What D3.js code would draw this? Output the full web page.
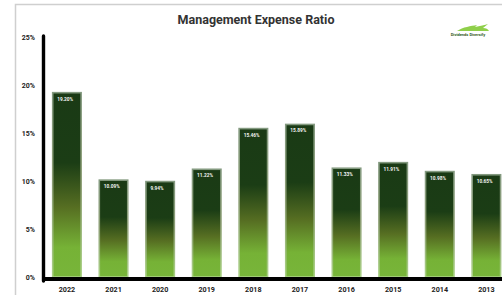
<!DOCTYPE html>
<html>
<head>
<meta charset="utf-8">
<script src="https://cdn.jsdelivr.net/npm/d3@7"></script>
<style>
  html, body { margin: 0; padding: 0; background: #fff; }
  svg { display: block; font-family: Roboto, "DejaVu Sans", sans-serif; }
</style>
</head>
<body>
<div id="chart"></div>
<script>
// data
var years = ["2022", "2021", "2020", "2019", "2018", "2017", "2016", "2015", "2014", "2013"];
var ratios = [19.20, 10.09, 9.94, 11.22, 15.46, 15.89, 11.33, 11.91, 10.98, 10.65];
var yTicks = [0, 5, 10, 15, 20, 25];
var title = "Management Expense Ratio";

var W = 502, H = 295;
var svg = d3.select("#chart").append("svg")
    .attr("width", W).attr("height", H);

var defs = svg.append("defs");
var fillGrad = defs.append("linearGradient").attr("id", "barFill")
    .attr("x1", 0).attr("y1", 0).attr("x2", 0).attr("y2", 1);
[[0, "#1a3a15"], [0.38, "#1b3d15"], [0.62, "#566e22"], [0.84, "#76b236"], [1, "#78b53a"]]
  .forEach(function(s){ fillGrad.append("stop").attr("offset", s[0]).attr("stop-color", s[1]); });
var strokeGrad = defs.append("linearGradient").attr("id", "barStroke")
    .attr("x1", 0).attr("y1", 0).attr("x2", 0).attr("y2", 1);
[[0, "#849a80"], [0.5, "#8c9e74"], [1, "#a9d184"]]
  .forEach(function(s){ strokeGrad.append("stop").attr("offset", s[0]).attr("stop-color", s[1]); });

// outer frame
svg.append("rect").attr("x", 15.5).attr("y", 4.5).attr("width", 500).attr("height", 320)
    .attr("fill", "none").attr("stroke", "#cfcfcf").attr("stroke-width", 1.5);

var x = d3.scaleBand().domain(years).range([52.7, 500.6]).paddingInner(0.39).paddingOuter(0);
var y = d3.scaleLinear().domain([0, 25]).range([277, 37]);

// title
svg.append("text").attr("x", 256).attr("y", 24).attr("text-anchor", "middle")
    .style("font-size", "12.5px").style("font-weight", "bold").attr("fill", "#333")
    .text(title);

// little logo top right
var logo = svg.append("g").attr("transform", "translate(447,24)");
logo.append("path").attr("d", "M10,7 C16,3 24,2 30,1 L28,3 C33,2 38,1 41,0 L36,4 C39,4 41,5 42,7 Z")
    .attr("fill", "#8fcf4a");
logo.append("text").attr("x", 21).attr("y", 12).attr("text-anchor", "middle")
    .style("font-size", "4px").style("font-weight", "bold").attr("fill", "#2f5a1a")
    .text("Dividends Diversify");

// y tick labels
svg.append("g").selectAll("text").data(yTicks).enter().append("text")
    .attr("x", 35).attr("y", function(d){ return y(d) + 2.5; })
    .attr("text-anchor", "end")
    .style("font-size", "7px").style("font-weight", "bold").attr("fill", "#222")
    .text(function(d){ return d + "%"; });

// bars
var bars = svg.append("g").selectAll("g").data(ratios).enter().append("g");
bars.append("rect")
    .attr("x", function(d, i){ return x(years[i]); })
    .attr("y", function(d){ return y(d); })
    .attr("width", x.bandwidth())
    .attr("height", function(d){ return y(0) - y(d); })
    .attr("fill", "url(#barFill)")
    .attr("stroke", "url(#barStroke)").attr("stroke-width", 1.6);
bars.append("text")
    .attr("x", function(d, i){ return x(years[i]) + 4.5; })
    .attr("y", function(d){ return y(d) + 8; })
    .style("font-size", "4.8px").style("font-weight", "bold").attr("fill", "#f2f2f2")
    .text(function(d){ return d.toFixed(2) + "%"; });

// axes lines
svg.append("line").attr("x1", 43.5).attr("x2", 43.5).attr("y1", 36).attr("y2", 281)
    .attr("stroke", "#000").attr("stroke-width", 3.4).attr("stroke-linecap", "round");
svg.append("line").attr("x1", 42).attr("x2", W).attr("y1", 279).attr("y2", 279)
    .attr("stroke", "#000").attr("stroke-width", 4);

// x labels
svg.append("g").selectAll("text").data(years).enter().append("text")
    .attr("x", function(d){ return x(d) + x.bandwidth() / 2; })
    .attr("y", 292)
    .attr("text-anchor", "middle")
    .style("font-size", "7.2px").style("font-weight", "bold").attr("fill", "#222")
    .text(function(d){ return d; });
</script>
</body>
</html>
